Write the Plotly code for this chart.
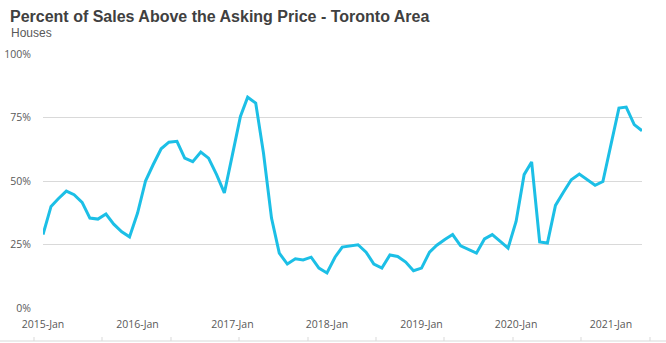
import pandas as pd
import plotly.graph_objects as go

# Monthly share of house sales closing above asking price, Toronto area (%)
months = pd.date_range("2015-01-01", "2021-05-01", freq="MS")
pct_above_asking = [
    # 2015
    28.9, 40.0, 43.0, 46.0, 44.6, 41.6, 35.4, 35.0, 37.0, 33.0, 30.0, 28.0,
    # 2016
    37.4, 50.1, 56.4, 62.7, 65.3, 65.6, 59.0, 57.6, 61.4, 59.0, 52.5, 45.3,
    # 2017
    60.3, 75.4, 83.0, 80.7, 61.0, 35.4, 21.6, 17.3, 19.4, 18.9, 20.0, 15.7,
    # 2018
    13.8, 20.0, 24.0, 24.5, 24.9, 22.0, 17.3, 15.7, 20.9, 20.3, 18.1, 14.7,
    # 2019
    15.7, 22.0, 24.7, 27.0, 28.9, 24.5, 23.0, 21.6, 27.2, 28.9, 26.2, 23.6,
    # 2020
    34.1, 52.5, 57.5, 26.0, 25.6, 40.4, 45.5, 50.5, 52.7, 50.5, 48.3, 49.8,
    # 2021
    64.3, 78.7, 79.1, 72.2, 69.8,
]
y_ticks = [0, 25, 50, 75, 100]
y_tick_labels = ["0%", "25%", "50%", "75%", "100%"]

TEXT = "#595959"
GRID = "#d9d9d9"
LINE = "#1cbfe6"

fig = go.Figure(
    go.Scatter(
        x=months,
        y=pct_above_asking,
        mode="lines",
        line=dict(color=LINE, width=3),
        hoverinfo="x+y",
    )
)

W, H = 666, 343
L, R, T, B = 43, 24, 54, 35
plot_w, plot_h = W - L - R, H - T - B

def px_x(p):
    return (p - L) / plot_w

def px_y(p):
    return (H - B - p) / plot_h

# Thin baseline strip with tick marks along the bottom edge
shapes = [
    dict(type="line", xref="paper", yref="paper",
         x0=px_x(0), x1=px_x(W), y0=px_y(341), y1=px_y(341),
         line=dict(color=GRID, width=1)),
]
for tx in [34, 102, 171, 239, 308, 376, 444, 513, 581, 650]:
    shapes.append(dict(type="line", xref="paper", yref="paper",
                       x0=px_x(tx), x1=px_x(tx), y0=px_y(337), y1=px_y(341),
                       line=dict(color=GRID, width=1)))

fig.update_layout(
    width=W,
    height=H,
    margin=dict(l=L, r=R, t=T, b=B, autoexpand=False),
    paper_bgcolor="white",
    plot_bgcolor="white",
    showlegend=False,
    font=dict(family="Open Sans, sans-serif", size=11, color=TEXT),
    title=dict(
        text="<b>Percent of Sales Above the Asking Price - Toronto Area</b>",
        font=dict(family="Liberation Sans, Arial, sans-serif", size=16, color="#404040"),
        xref="container", yref="container",
        x=10 / W, xanchor="left",
        y=1 - 16 / H, yanchor="middle",
    ),
    annotations=[
        dict(
            text="Houses",
            xref="paper", yref="paper",
            x=px_x(9), y=px_y(33),
            xanchor="left", yanchor="middle",
            showarrow=False,
            font=dict(family="Liberation Sans, Arial, sans-serif", size=12, color=TEXT),
        )
    ],
    shapes=shapes,
    xaxis=dict(
        range=[months[0], months[-1]],
        tickmode="array",
        tickvals=[m for m in months if m.month == 1],
        tickformat="%Y-%b",
        showgrid=False,
        showline=False,
        zeroline=False,
        ticks="",
        automargin=False,
        ticklabelstandoff=8,
        tickfont=dict(size=10.5, color=TEXT),
    ),
    yaxis=dict(
        range=[0, 100],
        tickmode="array",
        tickvals=y_ticks,
        ticktext=y_tick_labels,
        showgrid=True,
        gridcolor=GRID,
        gridwidth=1,
        zeroline=False,
        showline=False,
        ticks="",
        automargin=False,
        ticklabelstandoff=11,
        tickfont=dict(size=10.5, color=TEXT),
    ),
)

fig.write_html("out.html")
